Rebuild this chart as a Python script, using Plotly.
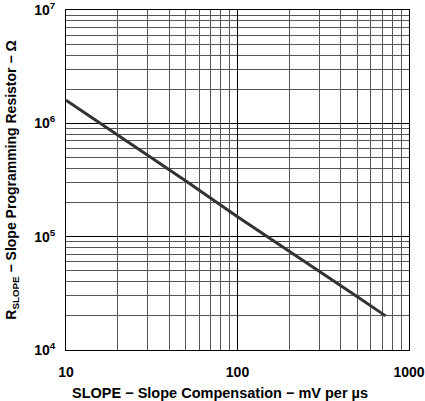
import plotly.graph_objects as go

slope = [10, 20, 30, 50, 100, 200, 300, 500, 730]
r_slope = [1.6e6, 7.9e5, 5.2e5, 3.1e5, 1.5e5, 7.5e4, 5.0e4, 2.95e4, 2.0e4]

x_ticks = [10, 100, 1000]
x_ticktext = ["10", "100", "1000"]
y_ticks = [1e4, 1e5, 1e6, 1e7]
y_ticktext = ["10<sup>4</sup>", "10<sup>5</sup>", "10<sup>6</sup>", "10<sup>7</sup>"]

font = "Liberation Sans, Arial, sans-serif"

fig = go.Figure()
fig.add_trace(go.Scatter(x=slope, y=r_slope, mode="lines",
    line=dict(color="#333333", width=3), showlegend=False))

fig.update_layout(
    width=425, height=401,
    paper_bgcolor="white", plot_bgcolor="white",
    margin=dict(l=66, r=16, t=10, b=51),
    font=dict(family=font, color="black"),
    xaxis=dict(type="log", range=[0.9999, 3.0001],
        tickvals=x_ticks, ticktext=x_ticktext,
        tickfont=dict(size=14, family=font, weight="bold"),
        showgrid=True, gridcolor="black", gridwidth=1,
        minor=dict(showgrid=True, gridcolor="#555555", gridwidth=1,
                   dtick="D1", ticks=""),
        ticks="", ticklabelstandoff=9, ticklabeloverflow="allow",
        showline=True, linecolor="black", linewidth=1, mirror=True,
        zeroline=False, automargin=False),
    yaxis=dict(type="log", range=[3.9999, 7.0001],
        tickvals=y_ticks, ticktext=y_ticktext,
        tickfont=dict(size=14, family=font, weight="bold"),
        showgrid=True, gridcolor="black", gridwidth=1,
        minor=dict(showgrid=True, gridcolor="#555555", gridwidth=1,
                   dtick="D1", ticks=""),
        ticks="", ticklabelstandoff=7, ticklabeloverflow="allow",
        showline=True, linecolor="black", linewidth=1, mirror=True,
        zeroline=False, automargin=False,
        title=dict(text="R<sub>SLOPE</sub> − Slope Programming Resistor − Ω",
                   font=dict(size=14, family=font, weight="bold"),
                   standoff=14)),
)

# x title sits a bit left of the plot centre in the original
fig.add_annotation(text="SLOPE − Slope Compensation − mV per µs",
    xref="paper", yref="paper", x=0.45, y=-0.127,
    xanchor="center", yanchor="middle", showarrow=False,
    font=dict(size=14.5, family=font, weight="bold"))

fig.write_html("out.html", config={"displayModeBar": False},
               post_script="document.body.style.margin='0';")
